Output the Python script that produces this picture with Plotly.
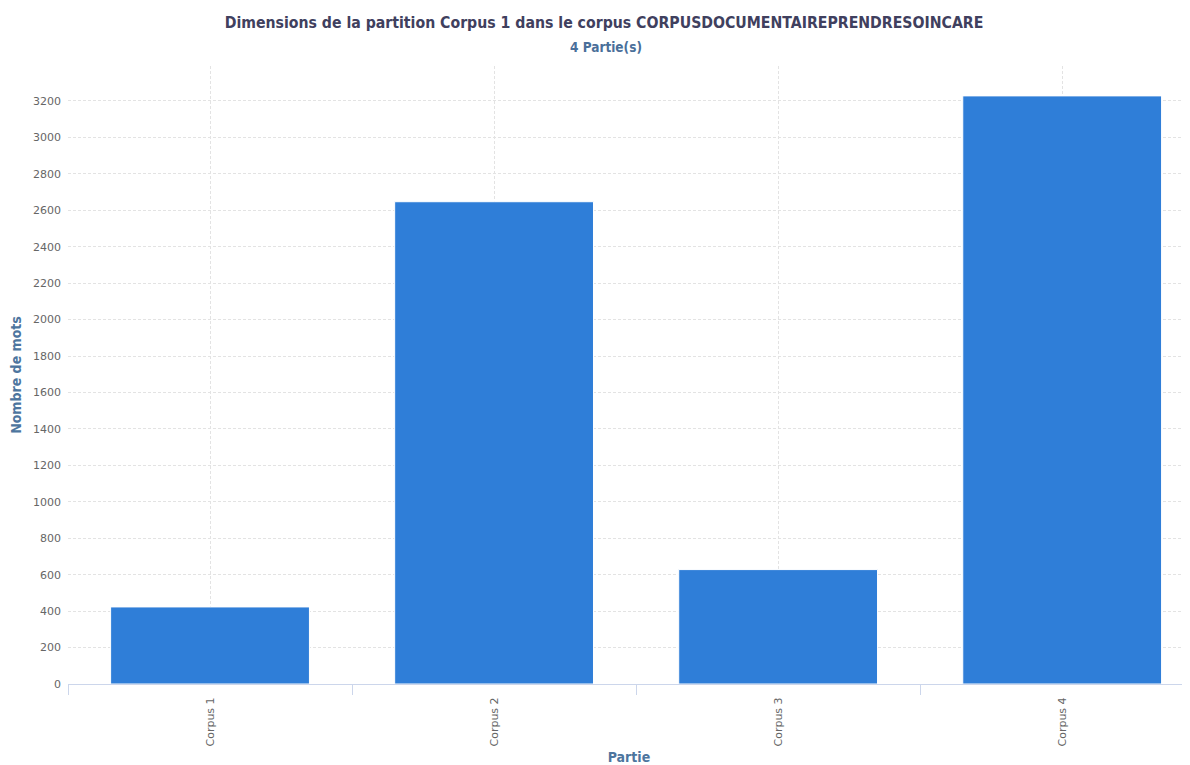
import plotly.graph_objects as go

categories = ["Corpus 1", "Corpus 2", "Corpus 3", "Corpus 4"]
values = [423, 2647, 628, 3228]
y_ticks = [0, 200, 400, 600, 800, 1000, 1200, 1400, 1600, 1800, 2000, 2200, 2400, 2600, 2800, 3000, 3200]
boundaries = [-0.5, 0.5, 1.5, 2.5]

title_text = "Dimensions de la partition Corpus 1 dans le corpus CORPUSDOCUMENTAIREPRENDRESOINCARE"
subtitle_text = "4 Partie(s)"

# the page body adds an 8px offset; the figure is sized to fit the window after it
W, H = 1182, 757
L, T, B = 60, 58, 81

fig = go.Figure()
fig.add_trace(go.Bar(
    x=list(range(len(categories))), y=values,
    width=0.7,
    marker=dict(color="#2f7ed8", line=dict(color="#ffffff", width=1)),
    hoverinfo="x+y",
))
fig.add_trace(go.Scatter(x=boundaries, y=[0]*len(boundaries), xaxis="x2",
                         mode="markers", marker=dict(opacity=0), hoverinfo="skip",
                         showlegend=False))

xr = [-0.5, 3.45]
title_font = "DejaVu Sans Condensed, DejaVu Sans"
fig.update_layout(
    width=W, height=H,
    margin=dict(l=L, r=0, t=T, b=B),
    paper_bgcolor="white", plot_bgcolor="white",
    showlegend=False,
    title=dict(
        text=f"<b>{title_text}</b>",
        x=596 / W, xanchor="center", y=1 - 15 / H, yanchor="middle",
        font=dict(family=title_font, size=15.7, color="#40405e"),
    ),
    annotations=[dict(
        text=f"<b>{subtitle_text}</b>", xref="paper", yref="paper",
        x=(598 - L) / (W - L),
        y=1 + (T - 39) / (H - T - B), xanchor="center", yanchor="middle",
        showarrow=False, font=dict(family=title_font, size=13.5, color="#4a6f9a"),
    )],
    xaxis=dict(
        range=xr, tickmode="array", tickvals=list(range(len(categories))), ticktext=categories,
        tickangle=-90, tickfont=dict(family="DejaVu Sans", size=11, color="#666666"),
        showgrid=True, gridcolor="#e3e3e3", griddash="3px,2px", gridwidth=1,
        showline=True, linecolor="#ccd6eb", linewidth=1,
        ticks="", zeroline=False, ticklabelstandoff=8, automargin=False,
        title=dict(text="<b>Partie</b>", font=dict(family=title_font, size=14, color="#4d759e"), standoff=8),
    ),
    xaxis2=dict(
        range=xr, overlaying="x", side="bottom", anchor="y",
        tickmode="array", tickvals=boundaries, showticklabels=False,
        ticks="outside", ticklen=10, tickcolor="#ccd6eb", tickwidth=1,
        showgrid=False, zeroline=False, showline=False,
    ),
    yaxis=dict(
        range=[0, 3392], tickmode="array", tickvals=y_ticks,
        tickfont=dict(family="DejaVu Sans", size=11, color="#666666"),
        showgrid=True, gridcolor="#e3e3e3", griddash="3px,2px", gridwidth=1,
        zeroline=False, ticks="", ticklabelstandoff=6, automargin=False,
        title=dict(text="<b>Nombre de mots</b>", font=dict(family=title_font, size=14, color="#4d759e"), standoff=8),
    ),
)

fig.write_html("out.html")
